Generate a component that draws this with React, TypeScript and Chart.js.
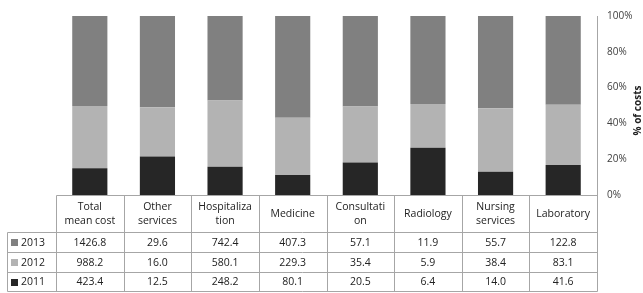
import React, { useEffect, useRef } from "react";
import { Chart, registerables } from "chart.js";

Chart.register(...registerables);

const categories: string[][] = [
  ["Total", "mean cost"],
  ["Other", "services"],
  ["Hospitaliza", "tion"],
  ["Medicine"],
  ["Consultati", "on"],
  ["Radiology"],
  ["Nursing", "services"],
  ["Laboratory"],
];
const years = ["2013", "2012", "2011"];
const values2013 = [1426.8, 29.6, 742.4, 407.3, 57.1, 11.9, 55.7, 122.8];
const values2012 = [988.2, 16.0, 580.1, 229.3, 35.4, 5.9, 38.4, 83.1];
const values2011 = [423.4, 12.5, 248.2, 80.1, 20.5, 6.4, 14.0, 41.6];
const yTicks = [0, 20, 40, 60, 80, 100];
const axisTitle = "% of costs";

const colors: Record<string, string> = {
  "2013": "#808080",
  "2012": "#b3b3b3",
  "2011": "#262626",
};

const FONT = "'Open Sans', 'Liberation Sans', sans-serif";

export default function App() {
  const ref = useRef<HTMLCanvasElement | null>(null);

  useEffect(() => {
    if (!ref.current) return;
    const totals = values2011.map((v, i) => v + values2012[i] + values2013[i]);
    const pct = (arr: number[]) => arr.map((v, i) => (v / totals[i]) * 100);
    const rowsByYear: Record<string, number[]> = {
      "2013": values2013,
      "2012": values2012,
      "2011": values2011,
    };

    const tablePlugin = {
      id: "dataTable",
      afterDraw(chart: any) {
        const ctx = chart.ctx as CanvasRenderingContext2D;
        const xs = chart.scales.x;
        const area = chart.chartArea;
        const n = categories.length;
        const colW = (xs.getPixelForValue(n - 1) - xs.getPixelForValue(0)) / (n - 1);
        const bounds: number[] = [];
        for (let i = 0; i <= n; i++) {
          const c = i < n ? xs.getPixelForValue(i) - colW / 2 : xs.getPixelForValue(n - 1) + colW / 2;
          bounds.push(Math.round(c) + 0.5);
        }
        const top = Math.round(area.bottom) + 0.5;
        const rowYs = [top, 232.5, 252.5, 272.5, 291.5];
        const legendLeft = 7.5;
        ctx.save();
        ctx.strokeStyle = "#a6a6a6";
        ctx.lineWidth = 1;
        ctx.beginPath();
        ctx.moveTo(bounds[0], rowYs[0]);
        ctx.lineTo(bounds[n], rowYs[0]);
        for (let r = 1; r < rowYs.length; r++) {
          ctx.moveTo(legendLeft, rowYs[r]);
          ctx.lineTo(bounds[n], rowYs[r]);
        }
        for (const b of bounds) {
          ctx.moveTo(b, rowYs[0]);
          ctx.lineTo(b, rowYs[4]);
        }
        ctx.moveTo(legendLeft, rowYs[1]);
        ctx.lineTo(legendLeft, rowYs[4]);
        ctx.stroke();

        ctx.fillStyle = "#222";
        ctx.font = `10.5px ${FONT}`;
        ctx.textAlign = "center";
        ctx.textBaseline = "middle";
        categories.forEach((lines, i) => {
          const cx = xs.getPixelForValue(i);
          const mid = (rowYs[0] + rowYs[1]) / 2;
          const lh = 14;
          lines.forEach((l, k) => {
            ctx.fillText(l, cx, mid + (k - (lines.length - 1) / 2) * lh);
          });
        });
        years.forEach((y, r) => {
          const mid = (rowYs[r + 1] + rowYs[r + 2]) / 2 + 0.5;
          const vals = rowsByYear[y];
          vals.forEach((v, i) => {
            ctx.fillStyle = "#222";
            ctx.textAlign = "center";
            ctx.fillText(v.toFixed(1), xs.getPixelForValue(i), mid);
          });
          ctx.fillStyle = colors[y];
          ctx.fillRect(11, Math.round(mid) - 4, 7, 7);
          ctx.fillStyle = "#222";
          ctx.textAlign = "left";
          ctx.fillText(y, 21, mid);
        });

        const ys = chart.scales.y;
        ctx.save();
        ctx.translate(638, (ys.top + ys.bottom) / 2 + 5);
        ctx.rotate(-Math.PI / 2);
        ctx.font = `bold 10px ${FONT}`;
        ctx.textAlign = "center";
        ctx.textBaseline = "middle";
        ctx.fillStyle = "#222";
        ctx.fillText(axisTitle, 0, 0);
        ctx.restore();
        ctx.restore();
      },
    };

    const chart = new Chart(ref.current, {
      type: "bar",
      data: {
        labels: categories.map((c) => c.join(" ")),
        datasets: [
          { label: "2011", data: pct(values2011), backgroundColor: colors["2011"] },
          { label: "2012", data: pct(values2012), backgroundColor: colors["2012"] },
          { label: "2013", data: pct(values2013), backgroundColor: colors["2013"] },
        ],
      },
      options: {
        responsive: false,
        animation: false,
        layout: { padding: { left: 56, top: 10, bottom: 98, right: 0 } },
        plugins: { legend: { display: false }, tooltip: { enabled: false } },
        datasets: { bar: { categoryPercentage: 1, barPercentage: 0.52 } },
        scales: {
          x: { display: false, stacked: true },
          y: {
            position: "right",
            stacked: true,
            min: 0,
            max: 100,
            afterBuildTicks: (s: any) => {
              s.ticks = yTicks.map((v) => ({ value: v }));
            },
            afterFit: (s: any) => {
              s.width = 46;
            },
            grid: { display: false, drawTicks: false },
            border: { display: true, color: "#a6a6a6" },
            ticks: {
              padding: 10,
              color: "#404040",
              font: { family: FONT, size: 10 },
              callback: (v: any) => `${v}%`,
            },
          },
        },
      },
      plugins: [tablePlugin],
    } as any);
    return () => chart.destroy();
  }, []);

  return (
    <div style={{ position: "absolute", left: 0, top: 0, width: 643, height: 293, background: "#fff" }}>
      <canvas ref={ref} width={643} height={293} style={{ width: 643, height: 293 }} />
    </div>
  );
}
